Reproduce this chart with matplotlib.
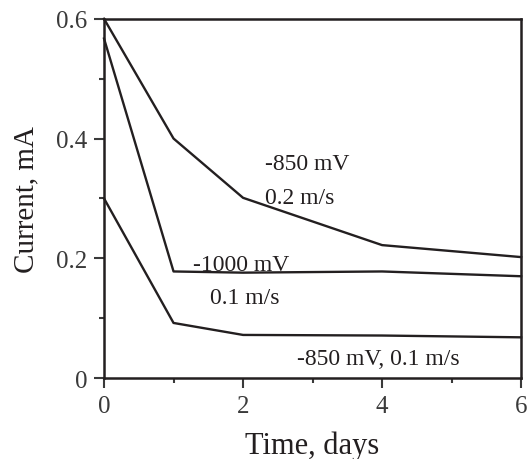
import matplotlib
matplotlib.use("Agg")
import matplotlib.pyplot as plt
from matplotlib.ticker import MultipleLocator

plt.rcParams["font.family"] = ["Liberation Serif", "DejaVu Serif"]

days = [0, 1, 2, 4, 6]
cur_850_02 = [0.600, 0.400, 0.301, 0.222, 0.202]
cur_1000_01 = [0.567, 0.178, 0.176, 0.178, 0.170]
cur_850_01 = [0.300, 0.092, 0.072, 0.071, 0.068]

ink = "#231f20"
tick_ink = "#3a3a3a"

fig = plt.figure(figsize=(5.28, 4.6), dpi=100)
ax = fig.add_axes([0.197, 0.176, 0.790, 0.781])

for y in (cur_850_02, cur_1000_01, cur_850_01):
    ax.plot(days, y, color=ink, linewidth=1.7, clip_on=False)

fs = 17
ax.text(2.32, 0.358, "-850 mV", fontsize=fs, color=ink, va="center")
ax.text(2.32, 0.302, "0.2 m/s", fontsize=fs, color=ink, va="center")
ax.text(1.28, 0.189, "-1000 mV", fontsize=fs, color=ink, va="center")
ax.text(1.52, 0.135, "0.1 m/s", fontsize=fs, color=ink, va="center")
ax.text(2.78, 0.032, "-850 mV, 0.1 m/s", fontsize=fs, color=ink, va="center")

ax.set_xlim(0, 6)
ax.set_ylim(0, 0.6)
ax.xaxis.set_major_locator(MultipleLocator(2))
ax.xaxis.set_minor_locator(MultipleLocator(1))
ax.yaxis.set_major_locator(MultipleLocator(0.2))
ax.yaxis.set_minor_locator(MultipleLocator(0.1))
ax.xaxis.set_major_formatter(plt.FuncFormatter(lambda v, p: f"{v:g}"))
ax.yaxis.set_major_formatter(plt.FuncFormatter(lambda v, p: f"{v:g}"))

ax.tick_params(which="both", direction="out", color=tick_ink, width=1.5,
               labelsize=18, labelcolor=tick_ink)
ax.tick_params(which="major", length=7, pad=5)
ax.tick_params(which="minor", length=3.5)
for s in ax.spines.values():
    s.set_linewidth(1.8)
    s.set_color(ink)

ax.set_xlabel("Time, days", fontsize=22, color=ink, labelpad=10)
ax.set_ylabel("Current, mA", fontsize=21, color=ink, labelpad=12)

fig.savefig("out.png", dpi=100)
